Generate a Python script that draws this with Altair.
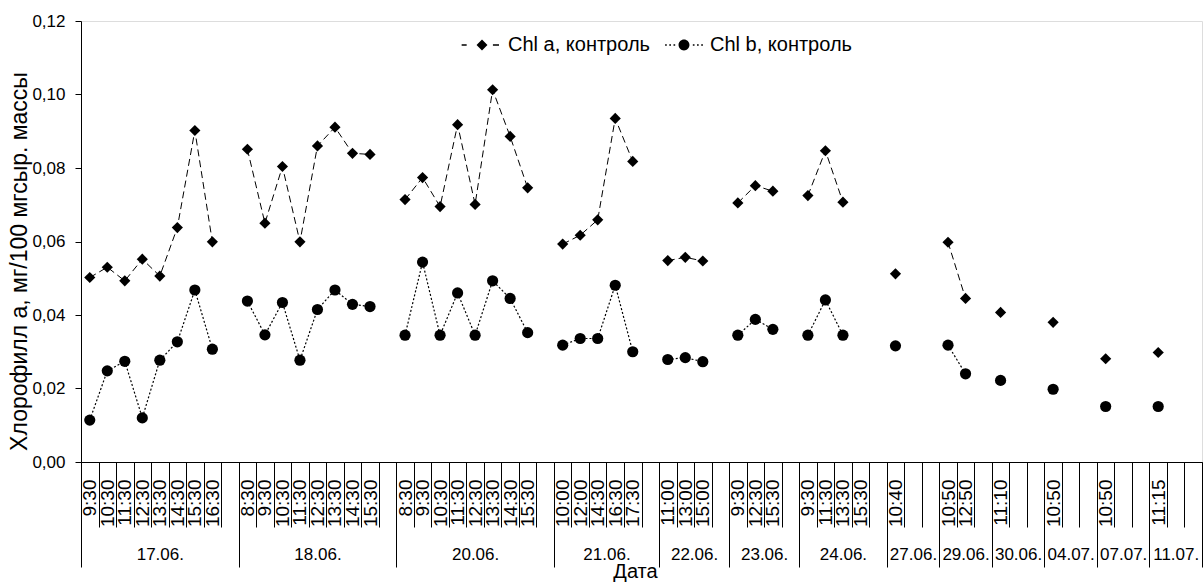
import json
import altair as alt
import pandas as pd

# ---------------- data ----------------
dates = ["17.06.", "18.06.", "20.06.", "21.06.", "22.06.", "23.06.", "24.06.",
         "27.06.", "29.06.", "30.06.", "04.07.", "07.07.", "11.07."]

times = [
    ["9:30", "10:30", "11:30", "12:30", "13:30", "14:30", "15:30", "16:30", ""],
    ["8:30", "9:30", "10:30", "11:30", "12:30", "13:30", "14:30", "15:30", ""],
    ["8:30", "9:30", "10:30", "11:30", "12:30", "13:30", "14:30", "15:30", ""],
    ["10:00", "12:00", "14:30", "16:30", "17:30", ""],
    ["11:00", "13:00", "15:00", ""],
    ["9:30", "12:30", "15:30", ""],
    ["9:30", "11:30", "13:30", "15:30", ""],
    ["10:40", "", ""],
    ["10:50", "12:50", ""],
    ["11:10", "", ""],
    ["10:50", "", ""],
    ["10:50", "", ""],
    ["11:15", "", ""],
]

chl_a = [
    [0.0502, 0.0530, 0.0493, 0.0552, 0.0506, 0.0638, 0.0902, 0.0599, None],
    [0.0851, 0.0650, 0.0804, 0.0599, 0.0860, 0.0911, 0.0840, 0.0837, None],
    [0.0714, 0.0774, 0.0695, 0.0918, 0.0701, 0.1013, 0.0886, 0.0746, None],
    [0.0593, 0.0617, 0.0659, 0.0935, 0.0818, None],
    [0.0548, 0.0557, 0.0547, None],
    [0.0705, 0.0752, 0.0737, None],
    [0.0725, 0.0847, 0.0707, None, None],
    [0.0512, None, None],
    [0.0598, 0.0445, None],
    [0.0407, None, None],
    [0.0380, None, None],
    [0.0281, None, None],
    [0.0298, None, None],
]

chl_b = [
    [0.0114, 0.0248, 0.0274, 0.0120, 0.0277, 0.0327, 0.0468, 0.0307, None],
    [0.0438, 0.0346, 0.0434, 0.0277, 0.0415, 0.0468, 0.0429, 0.0423, None],
    [0.0345, 0.0544, 0.0345, 0.0460, 0.0345, 0.0493, 0.0445, 0.0352, None],
    [0.0318, 0.0336, 0.0336, 0.0481, 0.0300, None],
    [0.0279, 0.0284, 0.0273, None],
    [0.0345, 0.0388, 0.0361, None],
    [0.0345, 0.0441, 0.0345, None, None],
    [0.0316, None, None],
    [0.0318, 0.0240, None],
    [0.0222, None, None],
    [0.0198, None, None],
    [0.0151, None, None],
    [0.0151, None, None],
]

series_names = ["Chl a, контроль", "Chl b, контроль"]
y_ticks = [0.0, 0.02, 0.04, 0.06, 0.08, 0.10, 0.12]

# ---------------- build table ----------------
rows = []
time_arr = []
group_bounds = [0]
group_centers = []
slot = 0
for d, ts, va, vb in zip(dates, times, chl_a, chl_b):
    start = slot
    for t, a, b in zip(ts, va, vb):
        time_arr.append(t)
        if a is not None:
            rows.append(dict(pos=slot + 0.5, value=a, series=series_names[0], group=d))
        if b is not None:
            rows.append(dict(pos=slot + 0.5, value=b, series=series_names[1], group=d))
        slot += 1
    group_bounds.append(slot)
    group_centers.append((start + slot) / 2)
n_slots = slot
df = pd.DataFrame(rows)

time_values = [i + 0.5 for i, t in enumerate(time_arr) if t]
time_expr = json.dumps(time_arr, ensure_ascii=False) + "[floor(datum.value)]"
date_expr = (json.dumps(dates, ensure_ascii=False) + "[indexof("
             + json.dumps(group_centers) + ", datum.value)]")

FONT = "Arial, Liberation Sans, sans-serif"
xscale = alt.Scale(domain=[0, n_slots], nice=False, zero=False)
yscale = alt.Scale(domain=[0, 0.12], nice=False, zero=True)

common_axis = dict(orient="bottom", grid=False, labelFont=FONT, titleFont=FONT,
                   labelColor="black", tickColor="black", domainColor="black",
                   labelOverlap=False, labelFlush=False, labelBound=False)

axis_slots = alt.Axis(values=list(range(n_slots + 1)), tickSize=65, labels=False,
                      domain=True, title=None, tickWidth=1, domainWidth=1, **common_axis)
axis_groups = alt.Axis(values=group_bounds, tickSize=105, labels=False, domain=False,
                       title=None, tickWidth=1, **common_axis)
axis_times = alt.Axis(values=time_values, tickSize=0, ticks=False, domain=False,
                      labelExpr=time_expr, labelAngle=270, labelAlign="right",
                      labelBaseline="middle", labelPadding=17, labelFontSize=19,
                      title=None, **common_axis)
axis_dates = alt.Axis(values=group_centers, tickSize=0, ticks=False, domain=False,
                      labelExpr=date_expr, labelAngle=0, labelAlign="center",
                      labelBaseline="top", labelPadding=84, labelFontSize=17,
                      title="Дата", titleFontSize=20, titleFontWeight="normal",
                      titleColor="black", titleBaseline="top", titleY=99, titleX=554,
                      **common_axis)

y_axis = alt.Axis(values=y_ticks, labelExpr="replace(format(datum.value, '.2f'), '.', ',')",
                  tickSize=6, labelPadding=10, labelFontSize=17, labelFont=FONT,
                  labelColor="black", tickColor="black", domainColor="black", grid=False,
                  title="Хлорофилл а, мг/100 мгсыр. массы", titleFont=FONT,
                  titleFontSize=23, titleFontWeight="normal", titleColor="black",
                  titleX=-50, titleY=240, titleBaseline="bottom")

base = alt.Chart(df)
dataA = base.transform_filter(alt.datum.series == series_names[0])
dataB = base.transform_filter(alt.datum.series == series_names[1])

lineA = dataA.mark_line(color="black", strokeWidth=1, strokeDash=[7, 4]).encode(
    x=alt.X("pos:Q", scale=xscale, axis=axis_slots),
    y=alt.Y("value:Q", scale=yscale, axis=y_axis),
    detail="group:N",
)
lineB = dataB.mark_line(color="black", strokeWidth=1.2, strokeDash=[2, 2]).encode(
    x=alt.X("pos:Q", scale=xscale, axis=axis_groups),
    y=alt.Y("value:Q", scale=yscale, axis=None),
    detail="group:N",
)
ptsA = dataA.mark_point(shape="diamond", filled=True, size=125, color="black", opacity=1).encode(
    x=alt.X("pos:Q", scale=xscale, axis=axis_times),
    y=alt.Y("value:Q", scale=yscale, axis=None),
)
ptsB = dataB.mark_point(shape="circle", filled=True, size=125, color="black", opacity=1).encode(
    x=alt.X("pos:Q", scale=xscale, axis=axis_dates),
    y=alt.Y("value:Q", scale=yscale, axis=None),
)


# legend symbols: dashed / dotted line with marker, drawn as filled shapes
# (custom symbol path, unit = sqrt(symbolSize)/2 = 21 px)
def seg(x0, x1, h=0.03):
    return f"M{x0:.3f},{-h:.3f}L{x1:.3f},{-h:.3f}L{x1:.3f},{h:.3f}L{x0:.3f},{h:.3f}Z"


path_a = (seg(-0.97, -0.73) + seg(0.52, 0.81)
          + "M0,-0.26L0.26,0L0,0.26L-0.26,0Z")
path_b = ("".join(seg(x, x + 0.08) for x in [-0.90, -0.70, -0.50, 0.42, 0.62, 0.82])
          + "M-0.26,0A0.26,0.26,0,1,0,0.26,0A0.26,0.26,0,1,0,-0.26,0Z")

legend_layer = base.mark_point(filled=True, color="black").encode(
    x=alt.X("pos:Q", scale=xscale, axis=None),
    y=alt.Y("value:Q", scale=yscale, axis=None),
    opacity=alt.value(0),
    shape=alt.Shape("series:N", scale=alt.Scale(domain=series_names, range=[path_a, path_b]),
                    legend=alt.Legend(title=None, orient="none", legendX=380, legendY=3,
                                      direction="horizontal", symbolSize=1764,
                                      symbolStrokeWidth=0, symbolFillColor="black",
                                      symbolOpacity=1,
                                      labelFont=FONT, labelFontSize=20, labelColor="black",
                                      labelOffset=5, columnPadding=12, symbolOffset=0,
                                      padding=0)),
)

chart = alt.layer(lineA, lineB, ptsA, ptsB, legend_layer).resolve_axis(
    x="independent", y="independent"
).properties(
    width=1121, height=441,
    padding={"left": 81, "top": 21, "right": 2, "bottom": 120},
    autosize=alt.AutoSizeParams(type="none"),
).configure_view(stroke=None).configure(background="white")

chart.save("out.html", embed_options={"renderer": "svg", "actions": False})
